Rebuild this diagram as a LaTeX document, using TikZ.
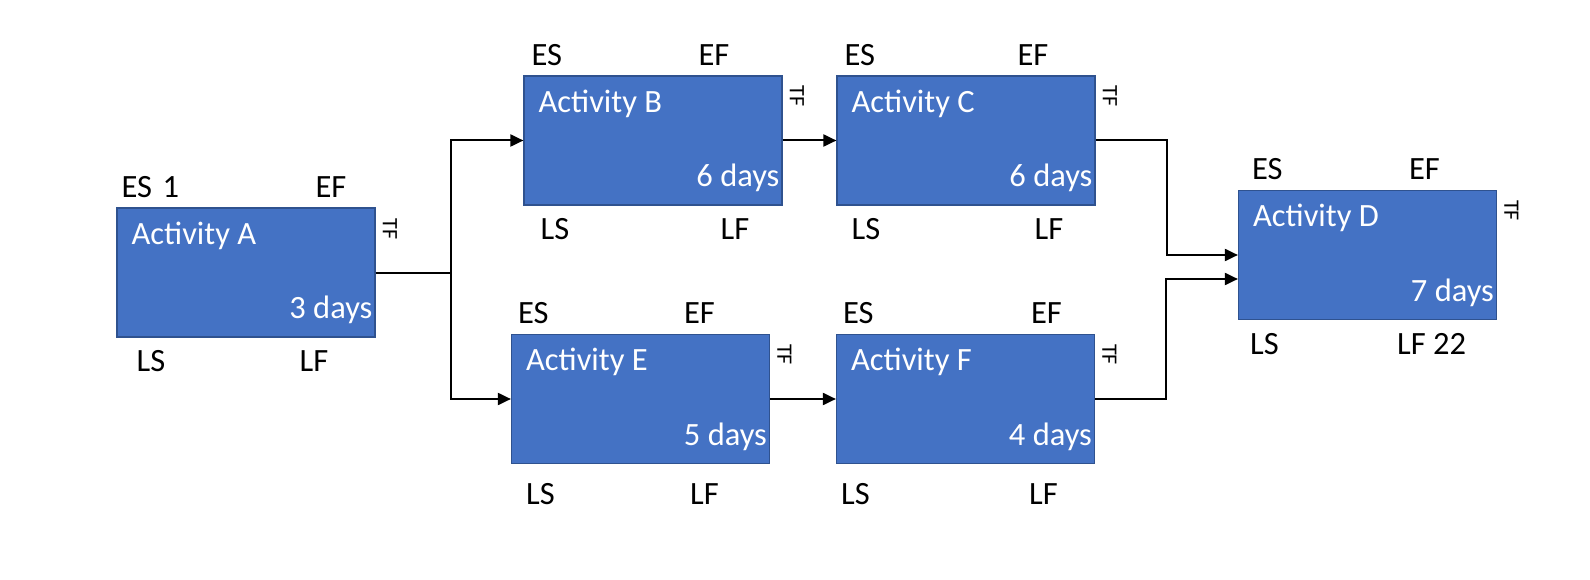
\documentclass[tikz,border=0pt]{standalone}
\usepackage{fontspec}
\setmainfont{Carlito}
\usetikzlibrary{arrows.meta,calc}
\definecolor{actfill}{HTML}{4472C4}
\definecolor{actline}{HTML}{2F528F}

\begin{document}
\begin{tikzpicture}[x=1pt,y=-1pt,
  act/.style={draw=actline,line width=1.2pt,fill=actfill,minimum width=258pt,minimum height=129pt,inner sep=0},
  actname/.style={anchor=base west,text=white,inner sep=0,font=\fontsize{32.5}{38}\selectfont},
  dur/.style={anchor=base east,text=white,inner sep=0,font=\fontsize{32.5}{38}\selectfont},
  tag/.style={anchor=base west,inner sep=0,font=\fontsize{32.5}{38}\selectfont},
  tf/.style={anchor=south west,rotate=-90,inner sep=0,font=\fontsize{22}{26}\selectfont},
  conn/.style={draw=black,line width=2pt,-{Triangle[length=13pt,width=12pt]}}]

  \fill[white] (0,0) rectangle (1590,580);
  \useasboundingbox (0,0) rectangle (1590,580);

  % activity A
  \node [act] (actA) at (246,272.5) {};
  \node [actname] at ([shift={(15,37)}]actA.north west) {Activity A};
  \node [dur] at ([shift={(-3,-19)}]actA.south east) {3 days};
  \node [tag] (esA) at ([shift={(5,-10)}]actA.north west) {ES\hspace{0.1em} 1};
  \node [tag] (efA) at ([shift={(199,-10)}]actA.north west) {EF};
  \node [tag] (lsA) at ([shift={(20,34)}]actA.south west) {LS};
  \node [tag] (lfA) at ([shift={(183,34)}]actA.south west) {LF};
  \node [tf] (tfA) at ([shift={(7,11)}]actA.north east) {TF};

  % activity B
  \node [act] (actB) at (653,140.5) {};
  \node [actname] at ([shift={(15,37)}]actB.north west) {Activity B};
  \node [dur] at ([shift={(-3,-19)}]actB.south east) {6 days};
  \node [tag] (esB) at ([shift={(8,-10)}]actB.north west) {ES};
  \node [tag] (efB) at ([shift={(175,-10)}]actB.north west) {EF};
  \node [tag] (lsB) at ([shift={(17,34)}]actB.south west) {LS};
  \node [tag] (lfB) at ([shift={(197,34)}]actB.south west) {LF};
  \node [tf] (tfB) at ([shift={(7,10)}]actB.north east) {TF};

  % activity C
  \node [act] (actC) at (966,140.5) {};
  \node [actname] at ([shift={(15,37)}]actC.north west) {Activity C};
  \node [dur] at ([shift={(-3,-19)}]actC.south east) {6 days};
  \node [tag] (esC) at ([shift={(8,-10)}]actC.north west) {ES};
  \node [tag] (efC) at ([shift={(181,-10)}]actC.north west) {EF};
  \node [tag] (lsC) at ([shift={(15,34)}]actC.south west) {LS};
  \node [tag] (lfC) at ([shift={(198,34)}]actC.south west) {LF};
  \node [tf] (tfC) at ([shift={(7,10)}]actC.north east) {TF};

  % activity D
  \node [act] (actD) at (1367.5,255) {};
  \node [actname] at ([shift={(15,37)}]actD.north west) {Activity D};
  \node [dur] at ([shift={(-3,-19)}]actD.south east) {7 days};
  \node [tag] (esD) at ([shift={(14,-10)}]actD.north west) {ES};
  \node [tag] (efD) at ([shift={(171,-10)}]actD.north west) {EF};
  \node [tag] (lsD) at ([shift={(12,34)}]actD.south west) {LS};
  \node [tag] (lfD) at ([shift={(159,34)}]actD.south west) {LF 22};
  \node [tf] (tfD) at ([shift={(7,10)}]actD.north east) {TF};

  % activity E
  \node [act] (actE) at (640.5,399) {};
  \node [actname] at ([shift={(15,37)}]actE.north west) {Activity E};
  \node [dur] at ([shift={(-3,-19)}]actE.south east) {5 days};
  \node [tag] (esE) at ([shift={(7,-10)}]actE.north west) {ES};
  \node [tag] (efE) at ([shift={(173,-10)}]actE.north west) {EF};
  \node [tag] (lsE) at ([shift={(15,40)}]actE.south west) {LS};
  \node [tag] (lfE) at ([shift={(179,40)}]actE.south west) {LF};
  \node [tf] (tfE) at ([shift={(7,10)}]actE.north east) {TF};

  % activity F
  \node [act] (actF) at (965.5,399) {};
  \node [actname] at ([shift={(15,37)}]actF.north west) {Activity F};
  \node [dur] at ([shift={(-3,-19)}]actF.south east) {4 days};
  \node [tag] (esF) at ([shift={(7,-10)}]actF.north west) {ES};
  \node [tag] (efF) at ([shift={(195,-10)}]actF.north west) {EF};
  \node [tag] (lsF) at ([shift={(5,40)}]actF.south west) {LS};
  \node [tag] (lfF) at ([shift={(193,40)}]actF.south west) {LF};
  \node [tf] (tfF) at ([shift={(7,10)}]actF.north east) {TF};

  % links
  \draw [conn] (actA.east) -- ++(75,0) |- (actB.west);
  \draw [conn] (actA.east) -- ++(75,0) |- (actE.west);
  \draw [conn] (actB) -- (actC);
  \draw [conn] (actE) -- (actF);
  \draw [conn] (actC.east) -- ++(71,0) |- (actD.west);
  \draw [conn] (actF.east) -- ++(71,0) |- ($(actD.west)+(0,24)$);
\end{tikzpicture}
\end{document}
